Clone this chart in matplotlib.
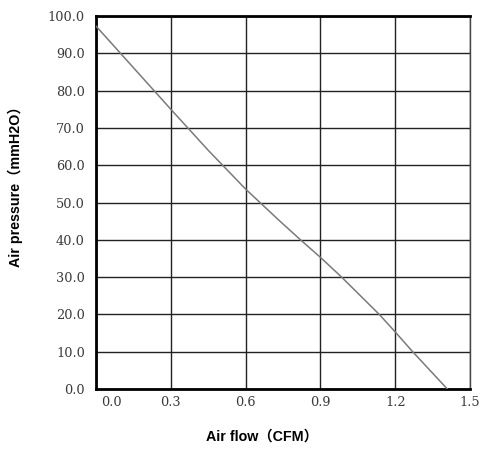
import matplotlib
matplotlib.use("Agg")
import matplotlib.pyplot as plt
import matplotlib.transforms as mtransforms

# fan curve
air_flow = [0.0, 0.3, 0.45, 0.6, 0.736, 0.82, 0.9, 0.985, 1.136, 1.2, 1.27, 1.409]
air_pressure = [97.3, 75.0, 64.0, 53.6, 45.1, 40.0, 35.3, 30.0, 20.0, 15.3, 10.0, 0.0]

x_ticks = [0.0, 0.3, 0.6, 0.9, 1.2, 1.5]
y_ticks = [0, 10, 20, 30, 40, 50, 60, 70, 80, 90, 100]

label_font = ["Liberation Sans", "Noto Sans CJK SC"]

fig = plt.figure(figsize=(4.84, 4.49), dpi=100)
ax = fig.add_axes([96 / 484, 60 / 449, 374 / 484, 373 / 449])

ax.plot(air_flow, air_pressure, color="#7a7a7a", linewidth=1.1, zorder=3)

ax.set_xlim(0, 1.5)
ax.set_ylim(0, 100)
ax.set_xticks(x_ticks)
ax.set_yticks(y_ticks)
ax.set_xticklabels([f"{v:.1f}" for v in x_ticks], family="DejaVu Serif", fontsize=9.3, color="#3a3a3a")
ax.set_yticklabels([f"{v:.1f}" for v in y_ticks], family="DejaVu Serif", fontsize=9.3, color="#3a3a3a")
ax.tick_params(axis="both", length=0)
ax.tick_params(axis="x", pad=5)
ax.tick_params(axis="y", pad=8)

# first x label sits a bit to the right of the axis corner
first = ax.get_xticklabels()[0]
first.set_transform(first.get_transform() + mtransforms.ScaledTranslation(15 / 100, 0, fig.dpi_scale_trans))

ax.grid(True, color="#222222", linewidth=1.0)
ax.set_axisbelow(True)

for side in ["left", "bottom", "top"]:
    ax.spines[side].set_linewidth(2.0)
    ax.spines[side].set_color("black")
ax.spines["right"].set_linewidth(1.0)
ax.spines["right"].set_color("#444444")

fig.text(262 / 484, 1 - 437 / 449, "Air flow（CFM）", family=label_font, fontweight="bold",
         fontsize=10.3, ha="center", va="center")
fig.text(15 / 484, 1 - 183 / 449, "Air pressure（mmH2O）", family=label_font, fontweight="bold",
         fontsize=10.3, ha="center", va="center", rotation=90)

fig.savefig("out.png", dpi=100)
